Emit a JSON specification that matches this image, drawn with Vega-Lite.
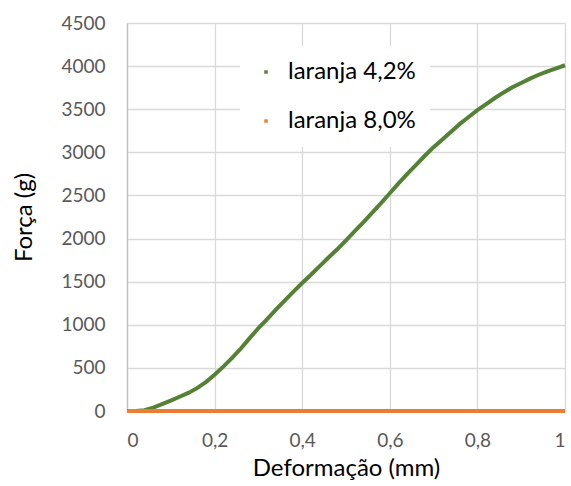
{
  "$schema": "https://vega.github.io/schema/vega-lite/v6.json",
  "width": 438,
  "height": 388,
  "autosize": {"type": "none"},
  "padding": {"left": 127, "top": 23, "right": 6, "bottom": 75},
  "background": "white",
  "config": {
    "font": "Lato",
    "view": {"stroke": null},
    "axis": {"gridColor": "#d9d9d9", "gridWidth": 1.3, "ticks": false, "labelColor": "#595959", "labelFontSize": 19, "labelFont": "Lato", "titleFont": "Lato", "titleColor": "#000000", "titleFontSize": 24, "titleFontWeight": "normal"}
  },
  "data": {
    "values": [
      {"x": 0.00, "y": 0, "s": "laranja 4,2%"},
      {"x": 0.02, "y": 0, "s": "laranja 4,2%"},
      {"x": 0.04, "y": 10, "s": "laranja 4,2%"},
      {"x": 0.06, "y": 40, "s": "laranja 4,2%"},
      {"x": 0.08, "y": 80, "s": "laranja 4,2%"},
      {"x": 0.10, "y": 120, "s": "laranja 4,2%"},
      {"x": 0.12, "y": 165, "s": "laranja 4,2%"},
      {"x": 0.14, "y": 210, "s": "laranja 4,2%"},
      {"x": 0.16, "y": 265, "s": "laranja 4,2%"},
      {"x": 0.18, "y": 335, "s": "laranja 4,2%"},
      {"x": 0.20, "y": 420, "s": "laranja 4,2%"},
      {"x": 0.22, "y": 515, "s": "laranja 4,2%"},
      {"x": 0.24, "y": 615, "s": "laranja 4,2%"},
      {"x": 0.26, "y": 725, "s": "laranja 4,2%"},
      {"x": 0.28, "y": 845, "s": "laranja 4,2%"},
      {"x": 0.30, "y": 960, "s": "laranja 4,2%"},
      {"x": 0.32, "y": 1065, "s": "laranja 4,2%"},
      {"x": 0.34, "y": 1175, "s": "laranja 4,2%"},
      {"x": 0.36, "y": 1280, "s": "laranja 4,2%"},
      {"x": 0.38, "y": 1385, "s": "laranja 4,2%"},
      {"x": 0.40, "y": 1485, "s": "laranja 4,2%"},
      {"x": 0.42, "y": 1580, "s": "laranja 4,2%"},
      {"x": 0.44, "y": 1680, "s": "laranja 4,2%"},
      {"x": 0.46, "y": 1780, "s": "laranja 4,2%"},
      {"x": 0.48, "y": 1875, "s": "laranja 4,2%"},
      {"x": 0.50, "y": 1980, "s": "laranja 4,2%"},
      {"x": 0.52, "y": 2085, "s": "laranja 4,2%"},
      {"x": 0.54, "y": 2190, "s": "laranja 4,2%"},
      {"x": 0.56, "y": 2300, "s": "laranja 4,2%"},
      {"x": 0.58, "y": 2410, "s": "laranja 4,2%"},
      {"x": 0.60, "y": 2525, "s": "laranja 4,2%"},
      {"x": 0.62, "y": 2640, "s": "laranja 4,2%"},
      {"x": 0.64, "y": 2750, "s": "laranja 4,2%"},
      {"x": 0.66, "y": 2855, "s": "laranja 4,2%"},
      {"x": 0.68, "y": 2960, "s": "laranja 4,2%"},
      {"x": 0.70, "y": 3060, "s": "laranja 4,2%"},
      {"x": 0.72, "y": 3150, "s": "laranja 4,2%"},
      {"x": 0.74, "y": 3240, "s": "laranja 4,2%"},
      {"x": 0.76, "y": 3330, "s": "laranja 4,2%"},
      {"x": 0.78, "y": 3410, "s": "laranja 4,2%"},
      {"x": 0.80, "y": 3490, "s": "laranja 4,2%"},
      {"x": 0.82, "y": 3560, "s": "laranja 4,2%"},
      {"x": 0.84, "y": 3630, "s": "laranja 4,2%"},
      {"x": 0.86, "y": 3695, "s": "laranja 4,2%"},
      {"x": 0.88, "y": 3755, "s": "laranja 4,2%"},
      {"x": 0.90, "y": 3805, "s": "laranja 4,2%"},
      {"x": 0.92, "y": 3855, "s": "laranja 4,2%"},
      {"x": 0.94, "y": 3900, "s": "laranja 4,2%"},
      {"x": 0.96, "y": 3940, "s": "laranja 4,2%"},
      {"x": 0.98, "y": 3975, "s": "laranja 4,2%"},
      {"x": 1.00, "y": 4010, "s": "laranja 4,2%"},
      {"x": 0.00, "y": 0, "s": "laranja 8,0%"},
      {"x": 0.25, "y": 0, "s": "laranja 8,0%"},
      {"x": 0.50, "y": 0, "s": "laranja 8,0%"},
      {"x": 0.75, "y": 0, "s": "laranja 8,0%"},
      {"x": 1.00, "y": 0, "s": "laranja 8,0%"}
    ]
  },
  "mark": {"type": "line", "strokeWidth": 4, "clip": false},
  "encoding": {
    "x": {
      "field": "x", "type": "quantitative",
      "scale": {"domain": [0, 1], "nice": false},
      "axis": {"values": [0, 0.2, 0.4, 0.6, 0.8, 1], "labelExpr": "replace(toString(datum.value), '.', ',')", "domain": false, "labelPadding": 20, "title": "Deformação (mm)", "titleBaseline": "middle", "titleY": 57}
    },
    "y": {
      "field": "y", "type": "quantitative",
      "scale": {"domain": [0, 4500], "nice": false},
      "axis": {"values": [0, 500, 1000, 1500, 2000, 2500, 3000, 3500, 4000, 4500], "format": "d", "domain": true, "domainColor": "#bfbfbf", "domainWidth": 1.3, "labelPadding": 22, "title": "Força (g)", "titleBaseline": "middle", "titleX": -103}
    },
    "color": {
      "field": "s", "type": "nominal",
      "scale": {"domain": ["laranja 4,2%", "laranja 8,0%"], "range": ["#548235", "#ED7D31"]},
      "legend": {
        "title": null, "orient": "none", "legendX": 113, "legendY": 23,
        "fillColor": "white", "padding": 14, "symbolType": "square", "symbolSize": 12,
        "symbolStrokeWidth": 0, "labelFontSize": 24, "labelColor": "#000000", "labelFont": "Lato",
        "labelOffset": 10, "rowPadding": 25,
        "encode": {"symbols": {"update": {"fill": {"scale": "color", "field": "value"}, "fillOpacity": {"value": 1}}}}
      }
    }
  }
}
